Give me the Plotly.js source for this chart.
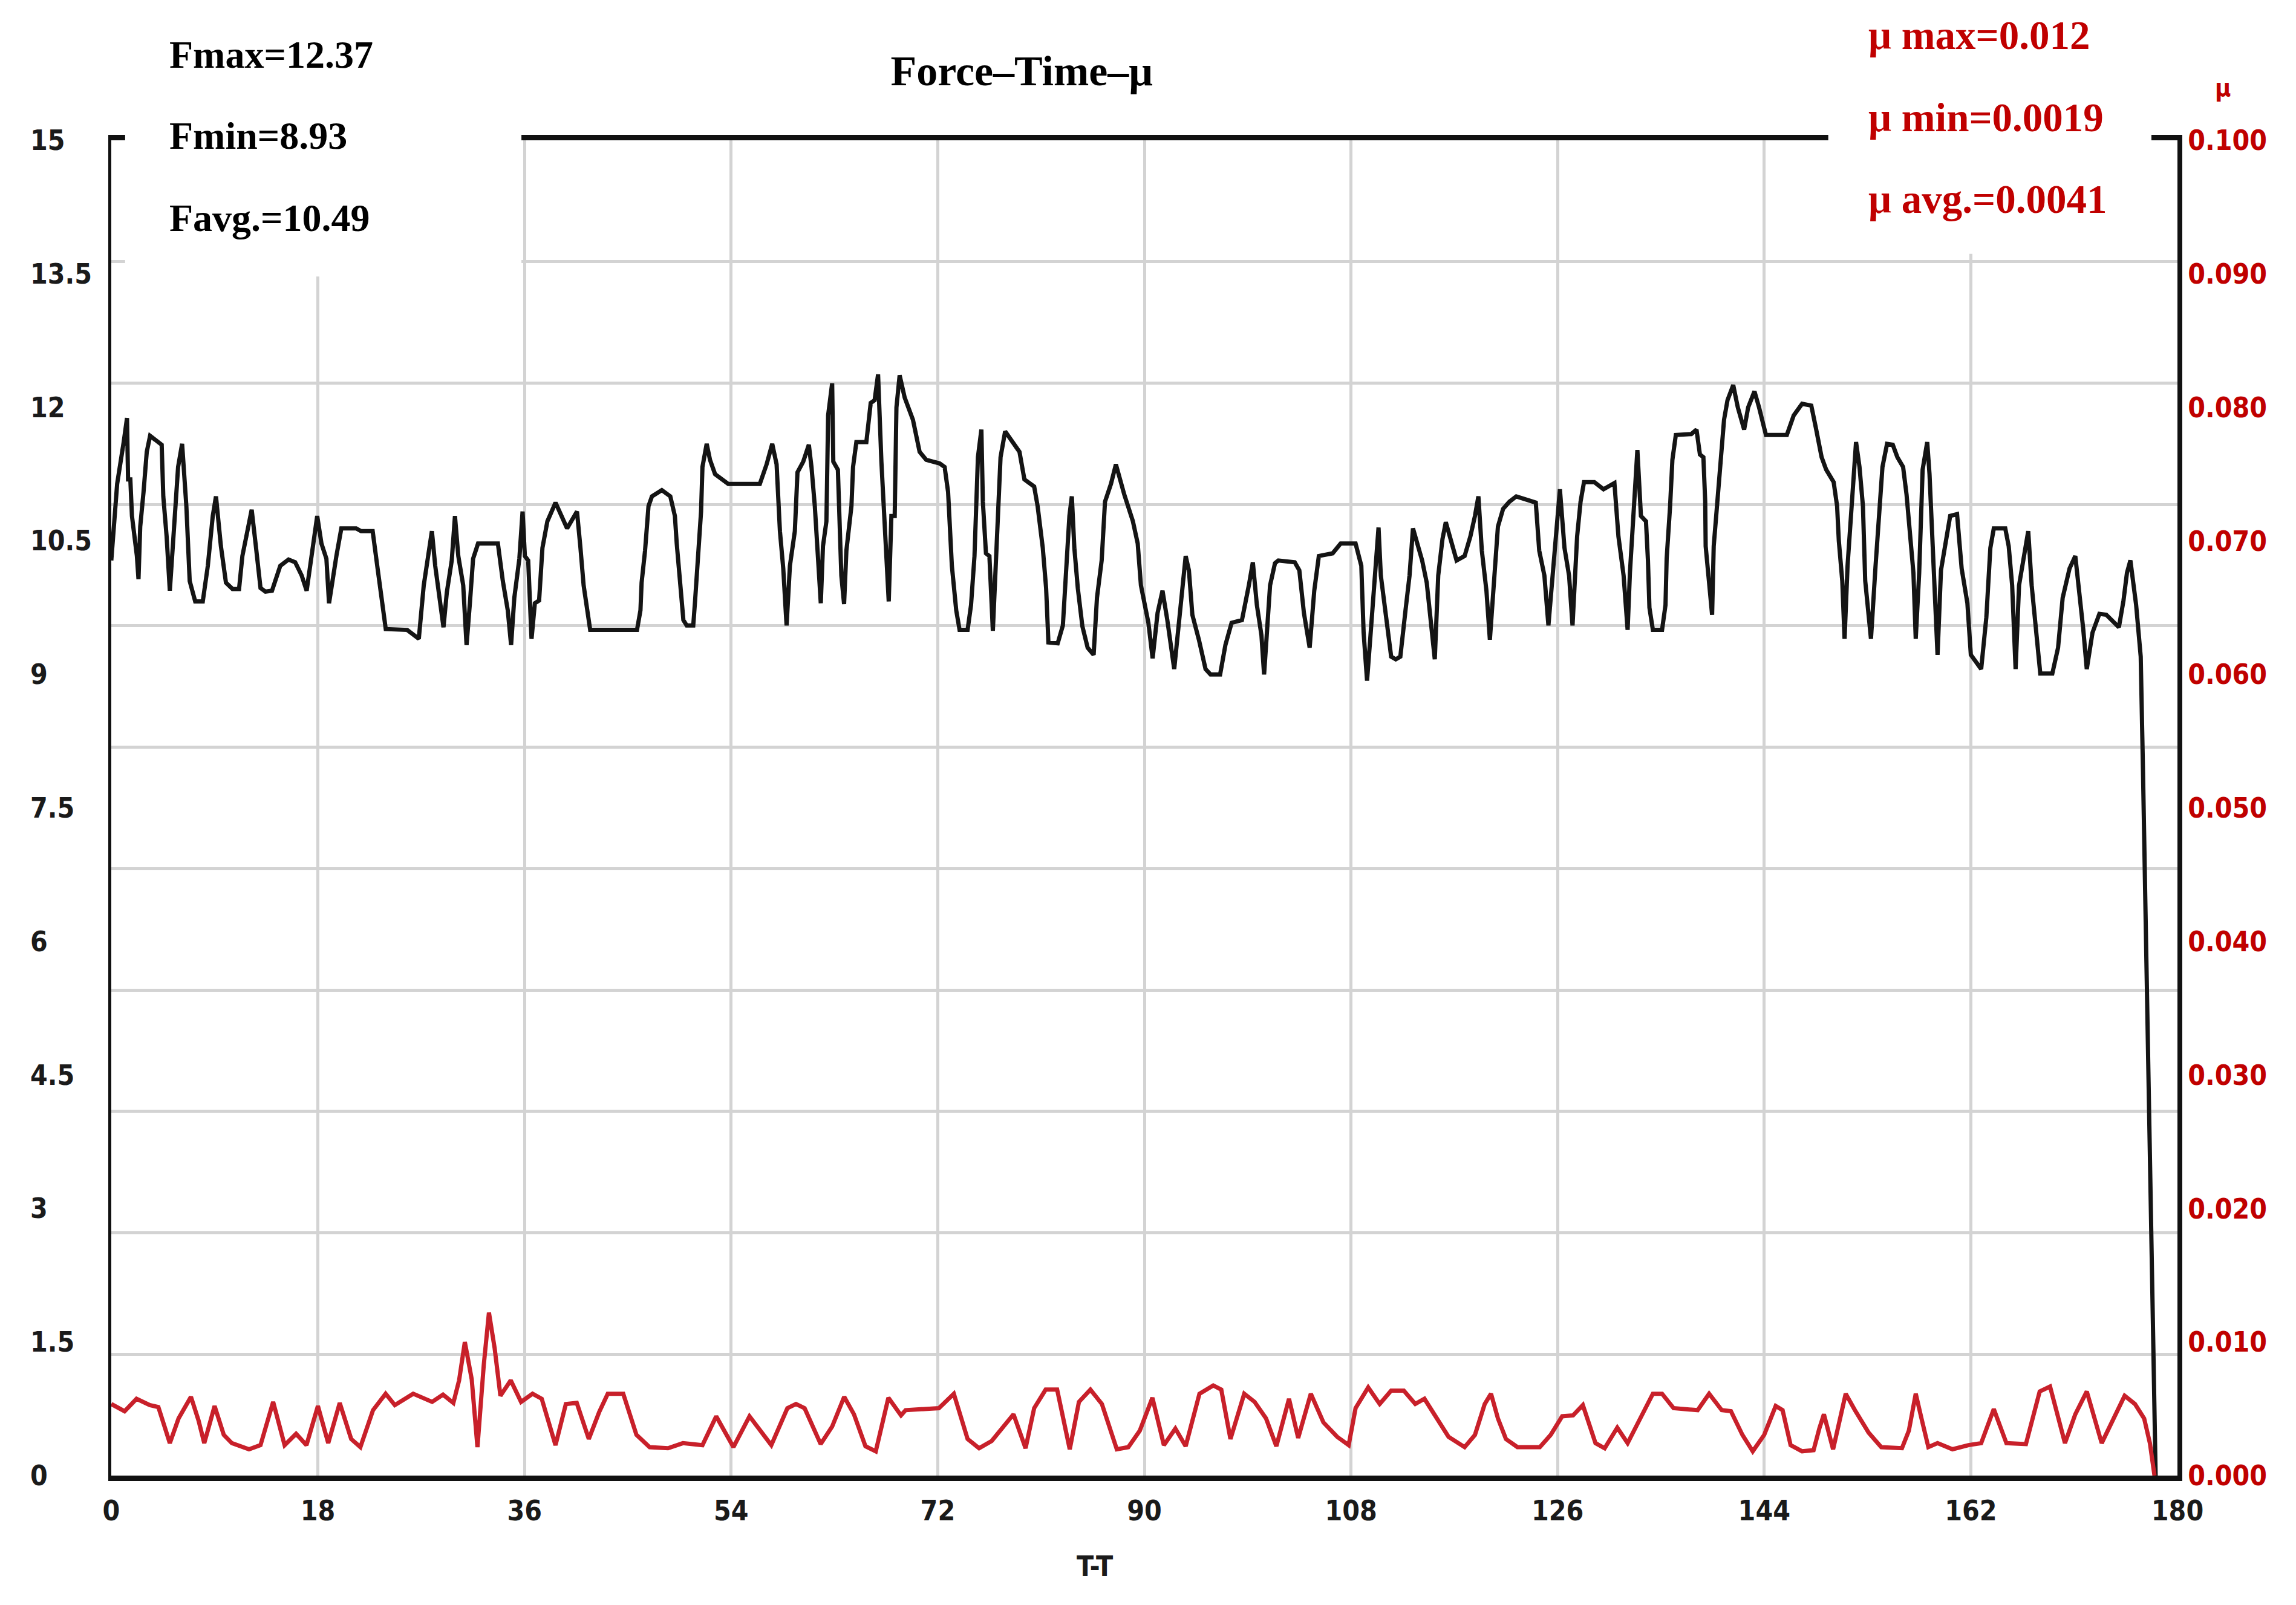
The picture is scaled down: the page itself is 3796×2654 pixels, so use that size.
<!DOCTYPE html>
<html>
<head>
<meta charset="utf-8">
<script src="https://cdn.plot.ly/plotly-3.0.1.min.js"></script>
<style>
  html, body { margin: 0; padding: 0; background: #fff; }
</style>
</head>
<body>
<div id="ForcePlot" style="width:3796px;height:2654px;"></div>
<script>
// force curve (time in s, force)
var forceT = [
  0, 0.51, 1.08, 1.37, 1.46, 1.66, 1.8, 2.23, 2.37, 2.52, 2.81, 3.09, 3.38, 3.95, 4.39, 4.53, 4.82, 5.1, 5.39, 5.82,
  6.17, 6.34, 6.54, 6.83, 7.31, 7.97, 8.41, 8.84, 9.12, 9.55, 9.99, 10.56, 11.13, 11.42, 12.23, 12.57, 13.0, 13.43, 14.0, 14.72,
  15.44, 16.02, 16.59, 17.02, 17.45, 17.94, 18.31, 18.74, 18.97, 19.32, 19.61, 20.04, 21.33, 21.76, 22.77, 23.2, 23.48, 23.91, 25.78, 26.79,
  27.22, 27.5, 27.93, 28.22, 28.51, 28.94, 29.23, 29.66, 29.94, 30.23, 30.66, 30.95, 31.24, 31.52, 31.95, 33.68, 34.11, 34.54, 34.83, 35.11,
  35.55, 35.83, 36.03, 36.32, 36.61, 36.9, 37.27, 37.56, 37.99, 38.7, 39.71, 40.57, 40.86, 41.15, 41.72,
  45.8, 46.1, 46.2, 46.5, 46.8, 47.1, 47.96, 48.7, 49.1, 49.26, 49.55, 49.84, 50.13, 50.7, 50.86, 51.15, 51.38, 51.5, 51.87, 52.16,
  52.6, 53.75, 56.5, 57.09, 57.58, 57.96, 58.1, 58.25, 58.54, 58.83, 59.12, 59.55, 59.78, 60.28, 60.77, 61.0, 61.29, 61.52, 61.81, 62.0,
  62.3, 62.45, 62.8, 62.9, 63.3, 63.6, 63.84, 64.04, 64.48, 64.62, 64.91, 65.78, 66.16, 66.5, 66.8, 67.09, 67.38, 67.73, 67.96, 68.25,
  68.4, 68.68, 69.12, 69.84, 70.42, 71.0, 72.16, 72.6, 72.9, 73.03, 73.23, 73.61, 73.9, 74.6, 74.9, 75.2, 75.5, 75.8, 75.93, 76.2,
  76.5, 76.8, 77.1, 77.47, 77.87, 78.54, 79.12, 79.55, 80.4, 80.7, 81.15, 81.44, 81.64, 82.45, 82.9, 83.26, 83.47, 83.68, 83.9, 84.2,
  84.6, 85.06, 85.58, 85.87, 86.28, 86.57, 87.09, 87.52, 88.25,
  89.0, 89.42, 89.7, 90.0, 90.35, 90.72, 91.15, 91.58, 92.0, 92.6, 93.0, 93.3, 93.6, 93.88, 94.18, 94.75, 95.33, 95.76, 96.6, 97.06,
  97.6, 98.5, 98.8, 99.1, 99.45, 99.8, 100.2, 100.43, 100.66, 100.95, 101.38, 101.67, 103.1, 103.5, 103.9, 104.4, 104.8, 105.2, 106.4, 107.1,
  108.4, 108.9, 109.1, 109.4, 109.7, 110.0, 110.4, 110.6, 111.0, 111.5, 111.9, 112.3, 112.75, 113.1, 113.4, 113.76, 114.2, 114.6, 115.06, 115.3,
  115.6, 115.97, 116.26, 116.8, 117.2, 117.9, 118.4, 118.8, 119.1, 119.4, 119.8, 120.1, 120.4, 120.8, 121.25, 121.8, 122.4, 123.3, 124.1, 124.4,
  124.85, 125.2, 125.6, 125.86, 126.2, 126.6, 127.0, 127.3, 127.7, 128.0, 128.3, 129.2, 130.0, 130.95, 131.3, 131.75, 132.1, 132.3, 132.6, 132.95,
  133.26, 133.7, 133.87, 134.0, 134.3, 135.1, 135.4, 135.5, 135.8, 136.0, 136.3, 137.65, 138.1, 138.4, 138.7, 138.86, 138.9, 139.3, 139.46, 139.6,
  139.9, 140.2, 140.5, 140.8, 141.3, 141.7, 142.25, 142.6, 143.15, 143.55, 144.15, 145.97, 146.57, 147.3, 148.1, 148.5, 149.0, 149.4, 150.05, 150.35,
  150.5, 150.8, 151.0, 151.26, 151.6, 152.0, 152.3, 152.6, 152.8, 153.3, 153.7, 154.0, 154.3, 154.7, 155.2, 155.6, 156.1, 156.4, 156.7, 157.0,
  157.2, 157.5, 157.8, 158.2, 158.4, 158.6, 158.85, 159.1, 159.4, 159.9, 160.2, 160.8, 161.2, 161.7, 162.0, 162.9, 163.35, 163.7, 164.0, 165.0,
  165.3, 165.6, 165.9, 166.2, 166.7, 167.0, 167.3, 167.6, 168.05, 169.1, 169.6, 170.0, 170.6, 171.1, 171.5, 171.8, 172.1, 172.6, 173.2, 173.8,
  174.9, 175.3, 175.6, 175.9, 176.4, 176.8, 177.0, 177.3, 177.6, 177.9, 178.1
];
var forceVals = [
  10.28, 11.14, 11.61, 11.88, 11.19, 11.19, 10.78, 10.33, 10.07, 10.66, 11.05, 11.5, 11.68, 11.63, 11.58, 11.0, 10.55, 9.94, 10.55, 11.33,
  11.59, 11.33, 10.89, 10.05, 9.82, 9.82, 10.22, 10.78, 11.0, 10.44, 10.03, 9.96, 9.96, 10.33, 10.85, 10.47, 9.97, 9.93, 9.94, 10.22,
  10.29, 10.26, 10.11, 9.94, 10.3, 10.78, 10.47, 10.3, 9.8, 10.11, 10.33, 10.64, 10.64, 10.61, 10.61, 10.19, 9.94, 9.51, 9.5, 9.4,
  10.0, 10.25, 10.61, 10.22, 9.92, 9.53, 9.92, 10.28, 10.78, 10.33, 10.0, 9.33, 9.8, 10.3, 10.47, 10.47, 10.05, 9.72, 9.33, 9.86,
  10.3, 10.83, 10.33, 10.28, 9.4, 9.8, 9.83, 10.42, 10.72, 10.93, 10.64, 10.83, 10.44, 10.0, 9.5,
  9.5, 9.72, 10.03, 10.39, 10.89, 11.0, 11.07, 11.0, 10.78, 10.47, 10.05, 9.61, 9.55, 9.55, 9.83, 10.33, 10.83, 11.33, 11.59, 11.41,
  11.25, 11.14, 11.14, 11.36, 11.59, 11.36, 10.97, 10.61, 10.19, 9.55, 10.22, 10.61, 11.27, 11.39, 11.58, 11.33, 10.89, 10.47, 9.8, 10.44,
  10.72, 11.91, 12.27, 11.39, 11.3, 10.11, 9.79, 10.39, 10.89, 11.33, 11.61, 11.61, 12.05, 12.08, 12.37, 11.39, 10.75, 9.82, 10.78, 10.78,
  12.0, 12.36, 12.11, 11.86, 11.5, 11.41, 11.37, 11.33, 11.05, 10.66, 10.22, 9.72, 9.5, 9.5, 9.78, 10.33, 11.44, 11.75, 10.94, 10.36,
  10.33, 9.49, 10.33, 11.44, 11.73, 11.61, 11.5, 11.19, 11.11, 10.89, 10.42, 9.97, 9.36, 9.35, 9.55, 10.33, 10.78, 11.0, 10.42, 9.97,
  9.54, 9.3, 9.22, 9.86, 10.28, 10.94, 11.14, 11.36, 11.02,
  10.72, 10.47, 10.0, 9.83, 9.58, 9.18, 9.69, 9.94, 9.61, 9.06, 9.56, 10.05, 10.33, 10.17, 9.67, 9.39, 9.06, 9.0, 9.0, 9.33,
  9.58, 9.61, 9.78, 10.0, 10.26, 9.78, 9.44, 9.0, 9.44, 10.0, 10.25, 10.28, 10.26, 10.17, 9.69, 9.3, 9.94, 10.33, 10.36, 10.47,
  10.47, 10.22, 9.47, 8.93, 9.44, 10.0, 10.65, 10.11, 9.72, 9.2, 9.17, 9.2, 9.72, 10.11, 10.64, 10.47, 10.28, 10.03, 9.5, 9.17,
  10.11, 10.52, 10.71, 10.47, 10.28, 10.33, 10.55, 10.78, 11.0, 10.39, 9.94, 9.39, 9.92, 10.66, 10.86, 10.94, 11.0, 10.96, 10.93, 10.39,
  10.11, 9.55, 10.19, 10.5, 11.08, 10.42, 10.11, 9.55, 10.55, 10.94, 11.16, 11.16, 11.08, 11.15, 10.55, 10.11, 9.5, 10.14, 10.83, 11.52,
  10.78, 10.72, 10.28, 9.75, 9.5, 9.5, 9.78, 10.3, 10.89, 11.41, 11.69, 11.7, 11.75, 11.47, 11.44, 10.94, 10.44, 9.94, 9.67, 10.44,
  10.94, 11.5, 11.86, 12.08, 12.25, 12.0, 11.75, 12.0, 12.18, 12.0, 11.69, 11.69, 11.91, 12.04, 12.02, 11.77, 11.44, 11.3, 11.16, 10.89,
  10.5, 10.05, 9.4, 10.22, 10.83, 11.61, 11.33, 10.89, 10.05, 9.4, 10.22, 10.8, 11.33, 11.59, 11.58, 11.44, 11.33, 11.02, 10.55, 10.14,
  9.4, 10.14, 11.3, 11.61, 11.25, 10.66, 10.14, 9.22, 10.17, 10.58, 10.78, 10.8, 10.19, 9.8, 9.22, 9.06, 9.64, 10.42, 10.64, 10.64,
  10.44, 10.0, 9.06, 10.0, 10.39, 10.61, 10.0, 9.61, 9.01, 9.01, 9.3, 9.86, 10.19, 10.33, 9.89, 9.5, 9.06, 9.47, 9.68, 9.67,
  9.53, 9.83, 10.14, 10.28, 9.78, 9.2, 7.9, 5.6, 3.4, 1.1, 0
];

// friction coefficient curve (time in s, mu)
var muT = [
  0, 1.16, 2.2, 3.35, 4.1, 5.1, 5.86, 6.94, 7.6, 8.1, 9.0, 9.8, 10.5, 12.0, 13.0, 14.1, 15.1, 16.1, 17.0, 18.0,
  18.9, 19.9, 20.9, 21.7, 22.8, 23.9, 24.7, 26.3, 27.95, 28.9, 29.8, 30.3, 30.8, 31.4, 31.9, 32.45, 32.9, 33.4, 33.9, 34.8,
  35.7, 36.7, 37.5, 38.7, 39.6, 40.55, 41.6, 42.5, 43.25, 44.6, 45.75, 46.9, 48.5, 49.8, 51.5, 52.7, 54.2, 55.6, 57.5, 58.9,
  59.65, 60.4, 61.8, 62.8, 63.85, 64.7, 65.7, 66.6, 67.7, 68.8, 69.2, 72.1, 73.4, 74.6, 75.6, 76.7, 78.6, 79.65, 80.4, 81.4,
  82.4, 83.5, 84.3, 85.3, 86.3, 87.6, 88.6, 89.6, 90.7, 91.7, 92.7, 93.6, 94.8, 96.0, 96.7, 97.5, 98.7, 99.6, 100.6, 101.5,
  102.6, 103.4, 104.5, 105.6, 106.8, 107.8, 108.4, 109.5, 110.5, 111.5, 112.6, 113.6, 114.4, 115.5, 116.5, 117.9, 118.8, 119.65,
  120.2, 120.8, 121.5, 122.5, 124.45, 125.4, 126.4, 127.35, 128.2, 129.3, 130.1, 131.2, 132.1, 133.2, 134.3, 135.1, 136.1, 138.2, 139.2, 140.3,
  141.1, 142.1, 143.0, 144.0, 145.0, 145.6, 146.3, 147.3, 148.3, 148.8, 149.2, 150.0, 151.1, 151.9, 153.1, 154.2, 156.0, 156.6, 157.2, 157.7,
  158.3, 159.1, 160.4, 161.8, 162.9, 164.0, 165.1, 166.8, 168.0, 168.9, 170.2, 171.1, 172.1, 173.4, 174.6, 175.4, 176.3, 177.1, 177.6, 178.0
];
var muVals = [
  0.00536, 0.00482, 0.00575, 0.00528, 0.00513, 0.00243, 0.00428, 0.0059, 0.00413, 0.00243, 0.00521, 0.00305, 0.00243, 0.00197, 0.00228, 0.00552, 0.00228, 0.00313, 0.00228, 0.00521,
  0.00243, 0.00544, 0.00274, 0.00213, 0.0049, 0.00613, 0.00528, 0.00613, 0.00552, 0.00606, 0.00544, 0.00713, 0.01, 0.00721, 0.00213, 0.00829, 0.0122, 0.00952, 0.00598, 0.00713,
  0.00552, 0.00613, 0.00575, 0.00228, 0.00536, 0.00544, 0.00274, 0.00475, 0.00613, 0.00613, 0.00305, 0.00213, 0.00205, 0.00243, 0.00228, 0.00444, 0.00213, 0.00444, 0.00228, 0.00505,
  0.00536, 0.00505, 0.00236, 0.00367, 0.0059, 0.00459, 0.0022, 0.00182, 0.00583, 0.00451, 0.0049, 0.00505, 0.00613, 0.00274, 0.00205, 0.00259, 0.00459, 0.00205, 0.00505, 0.00644,
  0.00644, 0.00197, 0.00552, 0.00644, 0.00536, 0.00197, 0.00213, 0.00336, 0.00583, 0.00228, 0.00352, 0.0022, 0.00613, 0.00675, 0.00644, 0.00274, 0.00613, 0.00552, 0.00428, 0.0022,
  0.00575, 0.00282, 0.00613, 0.00398, 0.0029, 0.00228, 0.00505, 0.0066, 0.00536, 0.00636, 0.00636, 0.00536, 0.00575, 0.00428, 0.0029, 0.00213, 0.00305, 0.00536,
  0.00613, 0.00428, 0.00274, 0.00213, 0.00213, 0.00305, 0.00444, 0.00451, 0.00528, 0.00243, 0.00205, 0.00359, 0.00243, 0.00428, 0.00613, 0.00613, 0.00505, 0.0049, 0.00613, 0.0049,
  0.00482, 0.00305, 0.00182, 0.00305, 0.00521, 0.0049, 0.00228, 0.00182, 0.0019, 0.00352, 0.00459, 0.00197, 0.00613, 0.0049, 0.00321, 0.00213, 0.00205, 0.00336, 0.00613, 0.00428,
  0.00213, 0.00243, 0.00197, 0.00228, 0.00243, 0.00498, 0.00243, 0.00236, 0.0063, 0.00667, 0.00243, 0.00459, 0.0063, 0.00243, 0.00459, 0.00598, 0.00536, 0.00428, 0.00243, 0
];

// axis ticks
var timeTicks = [0, 18, 36, 54, 72, 90, 108, 126, 144, 162, 180];
var forceTicks = [0, 1.5, 3, 4.5, 6, 7.5, 9, 10.5, 12, 13.5, 15];
var forceLabels = ['0', '1.5', '3', '4.5', '6', '7.5', '9', '10.5', '12', '13.5', '15'];
var muTicks = [0, 0.01, 0.02, 0.03, 0.04, 0.05, 0.06, 0.07, 0.08, 0.09, 0.1];
// the instrument draws 11 horizontal grid divisions, not tied to the labels
var gridVals = [1, 2, 3, 4, 5, 6, 7, 8, 9, 10].map(k => k * 15 / 11);

var tickFont = { family: 'DejaVu Sans Condensed, Liberation Sans Narrow, DejaVu Sans', size: 46, weight: 'bold', color: '#1a1a1a' };
var serif = 'Liberation Serif, Times New Roman, serif';
var muRed = '#c00000';

var forceTrace = {
  x: forceT,
  y: forceVals,
  mode: 'lines',
  line: { color: '#141414', width: 7 },
  name: 'Force'
};

var muTrace = {
  x: muT,
  y: muVals,
  yaxis: 'y2',
  mode: 'lines',
  line: { color: '#c8202a', width: 7 },
  name: 'μ'
};

var annotations = forceTicks.map((v, i) => ({
  xref: 'paper', yref: 'y', x: -0.0398, y: v,
  xanchor: 'left', yanchor: 'middle', showarrow: false,
  text: forceLabels[i], font: tickFont
}));

var statFont = { family: serif, size: 64, weight: 'bold', color: '#000' };
var muFont = { family: serif, size: 67, weight: 'bold', color: muRed };
annotations.push(
  { xref: 'paper', yref: 'paper', x: 0.0275, y: 1.0643, xanchor: 'left', yanchor: 'middle', showarrow: false, text: 'Fmax=12.37', font: statFont },
  { xref: 'paper', yref: 'paper', x: 0.0275, y: 1.0032, xanchor: 'left', yanchor: 'middle', showarrow: false, text: 'Fmin=8.93', font: statFont },
  { xref: 'paper', yref: 'paper', x: 0.0275, y: 0.9416, xanchor: 'left', yanchor: 'middle', showarrow: false, text: 'Favg.=10.49', font: statFont },
  { xref: 'paper', yref: 'paper', x: 0.8498, y: 1.0788, xanchor: 'left', yanchor: 'middle', showarrow: false, text: 'μ max=0.012', font: muFont },
  { xref: 'paper', yref: 'paper', x: 0.8498, y: 1.0172, xanchor: 'left', yanchor: 'middle', showarrow: false, text: 'μ min=0.0019', font: muFont },
  { xref: 'paper', yref: 'paper', x: 0.8498, y: 0.9561, xanchor: 'left', yanchor: 'middle', showarrow: false, text: 'μ avg.=0.0041', font: muFont },
  { xref: 'paper', yref: 'paper', x: 1.022, y: 1.0394, xanchor: 'center', yanchor: 'middle', showarrow: false, text: 'μ',
    font: { family: 'DejaVu Sans Condensed, DejaVu Sans', size: 40, weight: 'bold', color: muRed } },
  { xref: 'paper', yref: 'paper', x: 0.476, y: -0.068, xanchor: 'center', yanchor: 'middle', showarrow: false, text: 'T-T', font: tickFont }
);

var layout = {
  width: 3796,
  height: 2654,
  margin: { l: 184, r: 196, t: 232, b: 214 },
  paper_bgcolor: '#fff',
  plot_bgcolor: '#fff',
  showlegend: false,
  title: {
    text: 'Force–Time–μ',
    font: { family: serif, size: 70, weight: 'bold', color: '#000' },
    x: 0.445, xanchor: 'center',
    y: 0.956, yanchor: 'middle'
  },
  xaxis: {
    range: [0, 180],
    tickvals: timeTicks,
    ticktext: timeTicks.map(String),
    tickfont: tickFont,
    ticks: '',
    ticklabelstandoff: 10,
    showgrid: true, gridcolor: '#d3d3d3', gridwidth: 5,
    zeroline: false,
    showline: true, linecolor: '#111', linewidth: 9, mirror: true
  },
  yaxis: {
    range: [0, 15],
    tickvals: gridVals,
    showticklabels: false,
    ticks: '',
    showgrid: true, gridcolor: '#d3d3d3', gridwidth: 5,
    zeroline: false,
    showline: true, linecolor: '#111', linewidth: 5
  },
  yaxis2: {
    overlaying: 'y',
    side: 'right',
    range: [0, 0.1],
    tickvals: muTicks,
    tickformat: '.3f',
    tickfont: Object.assign({}, tickFont, { color: muRed }),
    ticks: '',
    ticklabelstandoff: 0,
    showgrid: false,
    zeroline: false,
    showline: true, linecolor: '#111', linewidth: 8
  },
  shapes: [
    { type: 'rect', xref: 'paper', yref: 'paper', x0: 0.0067, x1: 0.1985, y0: 0.898, y1: 1.12, fillcolor: '#fff', line: { width: 0 }, layer: 'above' },
    { type: 'rect', xref: 'paper', yref: 'paper', x0: 0.831, x1: 0.9874, y0: 0.915, y1: 1.12, fillcolor: '#fff', line: { width: 0 }, layer: 'above' }
  ],
  annotations: annotations
};

var data = [ forceTrace, muTrace ];

window.addEventListener('load', (event) => {
  Plotly.newPlot('ForcePlot', data, layout, { displayModeBar: false, staticPlot: true });
});
</script>
</body>
</html>
